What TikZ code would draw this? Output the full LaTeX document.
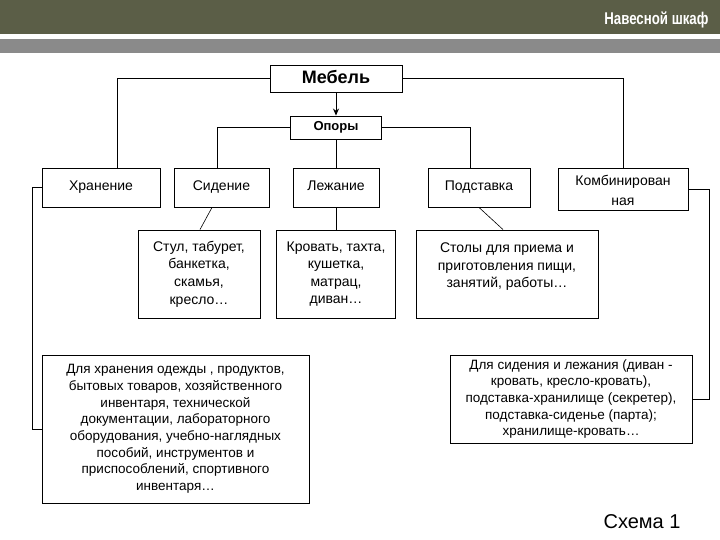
\documentclass[tikz,border=0pt]{standalone}
\usepackage{fontspec}
\setmainfont{Liberation Sans}
\newfontfamily\titlefont[FakeStretch=0.78]{Liberation Sans}
\usetikzlibrary{arrows.meta}
\definecolor{olive}{RGB}{91,94,71}
\definecolor{band}{RGB}{138,138,138}

\begin{document}
\begin{tikzpicture}[x=1pt, y=-1pt,
    box/.style={draw, line width=0.9pt, fill=white, align=center, inner sep=0pt, font=\fontsize{14}{17.6}\selectfont},
    one/.style={box, text height=10pt, text depth=3pt},
    head/.style={one, font=\fontsize{13}{15}\selectfont\bfseries},
    txt/.style={box, font=\fontsize{13.5}{16.7}\selectfont},
    link/.style={line width=0.8pt},
    >={Stealth[length=7pt, width=6pt]}]
  \useasboundingbox (0,0) rectangle (720,540);
  % header band
  \fill[olive] (0,0) rectangle (720,34);
  \fill[band] (0,39) rectangle (720,53);
  \node[anchor=east, text=white, font=\titlefont\bfseries\fontsize{17}{17}\selectfont] (title) at (712,20) {Навесной шкаф};

  % top level
  \node[head, font=\fontsize{18}{20}\selectfont\bfseries, text height=13pt, text depth=3pt, minimum width=132, minimum height=27] (meb) at (336,78.5) {Мебель};
  \node[head, minimum width=91, minimum height=23] (opo) at (336,127.5) {Опоры};

  % groups
  \node[one, minimum width=118, minimum height=39] (hran) at (101,187.5) {Хранение};
  \node[one, minimum width=95, minimum height=39] (sid) at (221.5,187.5) {Сидение};
  \node[one, minimum width=86, minimum height=39] (lez) at (336,187.5) {Лежание};
  \node[one, minimum width=102, minimum height=39] (pod) at (479,187.5) {Подставка};
  \node[box, font=\fontsize{14}{20}\selectfont, minimum width=130, minimum height=42] (komb) at (623,189) {\rule{0pt}{14pt}Комбинирован\\ная};

  % examples
  \node[box, minimum width=122, minimum height=88] (stul) at (199,274) {Стул, табурет,\\банкетка,\\скамья,\\кресло…};
  \node[box, minimum width=119, minimum height=88] (krov) at (336,274) {Кровать, тахта,\\кушетка,\\матрац,\\диван…};
  \node[box, minimum width=182, minimum height=88] (stol) at (507,274) {Столы для приема и\\приготовления пищи,\\занятий, работы…\\~};
  \node[txt, minimum width=267, minimum height=148] (dlh) at (175.5,429) {Для хранения одежды , продуктов,\\бытовых товаров, хозяйственного\\инвентаря, технической\\документации, лабораторного\\оборудования, учебно-наглядных\\пособий, инструментов и\\приспособлений, спортивного\\инвентаря…};
  \node[txt, minimum width=242, minimum height=88] (dls) at (571,399) {Для сидения и лежания (диван -\\кровать, кресло-кровать),\\подставка-хранилище (секретер),\\подставка-сиденье (парта);\\хранилище-кровать…};

  \node[anchor=east, font=\fontsize{20}{20}\selectfont] (cap) at (684,522) {Схема 1};

  % connectors
  \draw[link] (meb.west) -| ([xshift=16]hran.north);
  \draw[link] (meb.east) -| (komb.north);
  \draw[link, ->] (meb.south) -- (opo.north);
  \draw[link] (opo.west) -| ([xshift=-4.5]sid.north);
  \draw[link] (opo.east) -| ([xshift=-9]pod.north);
  \draw[link] (opo.south) -- (lez.north);
  \draw[link] (lez.south) -- (krov.north);
  \draw[line width=0.6pt] ([xshift=-9.5]sid.south) -- ([xshift=1]stul.north);
  \draw[line width=0.6pt] (pod.south) -- ([xshift=-4]stol.north);
  \draw[link] (hran.west) -- ++(-9,0) |- (dlh.west);
  \draw[link] (komb.east) -- ++(21,0) |- (dls.east);
\end{tikzpicture}
\end{document}
